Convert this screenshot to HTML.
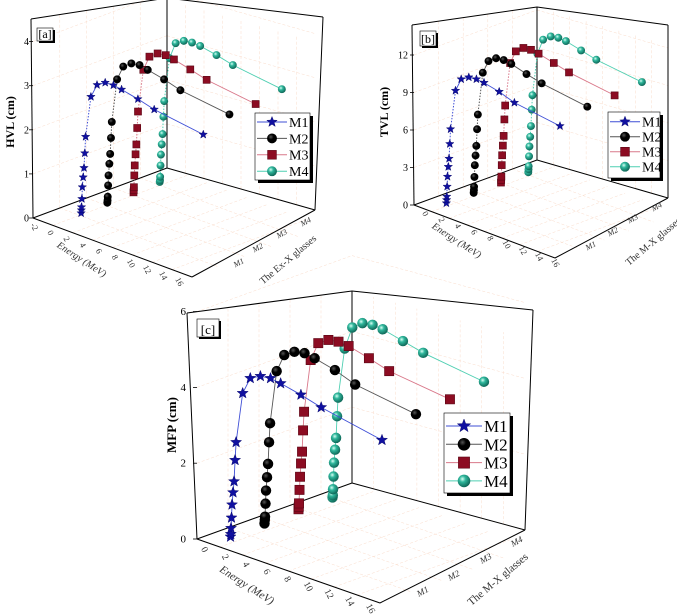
<!DOCTYPE html>
<html><head><meta charset="utf-8">
<style>
html,body{margin:0;padding:0;background:#fff;}
svg{display:block;font-family:"Liberation Serif",serif;}
</style></head>
<body>
<svg id="fig" width="677" height="616" viewBox="0 0 677 616" xmlns="http://www.w3.org/2000/svg">
<defs>
<radialGradient id="gSph" cx="0.38" cy="0.35" r="0.7"><stop offset="0" stop-color="#d8fff4"/><stop offset="0.35" stop-color="#2fb79c"/><stop offset="1" stop-color="#0b5e50"/></radialGradient>
<radialGradient id="gBlk" cx="0.38" cy="0.35" r="0.7"><stop offset="0" stop-color="#555"/><stop offset="0.4" stop-color="#000"/><stop offset="1" stop-color="#000"/></radialGradient>
</defs>
<g id="layer"></g>
</svg>
<script>
// ---- data ----
const energies = [0.05,0.08,0.1,0.15,0.2,0.3,0.4,0.5,0.6,1.25,2,3,4,5,7,9,15];
const seriesNames = ["M1","M2","M3","M4"];
const hvlM1 = [0,0.07,0.14,0.33,0.6,0.83,1.05,1.39,1.77,2.72,3.04,3.16,3.17,3.14,3.06,2.96,2.8];
const hvlM2 = [0,0.06,0.14,0.4,0.63,0.9,1.13,1.5,1.87,2.88,3.22,3.36,3.39,3.35,3.27,3.16,3.02];
const hvlM3 = [0,0.05,0.12,0.39,0.62,0.88,1.11,1.49,1.87,2.86,3.21,3.35,3.38,3.35,3.26,3.16,3.02];
const hvlM4 = [0,0.04,0.12,0.38,0.63,0.87,1.11,1.51,1.87,2.89,3.28,3.4,3.43,3.42,3.35,3.26,3.12];
const tvlM1 = [0,0.26,0.54,1.35,2.16,2.97,3.65,4.85,6.06,9.3,10.4,10.8,10.9,10.86,10.64,10.26,9.88];
const tvlM2 = [0,0.23,0.5,1.3,2.25,3.05,3.85,5.2,6.4,9.91,11.03,11.5,11.6,11.54,11.23,10.98,10.6];
const tvlM3 = [0,0.22,0.49,1.42,2.22,3.02,3.82,5.16,6.3,9.86,10.98,11.5,11.6,11.54,11.29,11.03,10.68];
const tvlM4 = [0,0.25,0.5,1.3,2.1,2.9,3.78,5.12,6.3,9.78,11.09,11.6,11.74,11.72,11.47,11.22,10.92];
const mfpM1 = [0.01,0.08,0.24,0.52,0.87,1.2,1.5,2.07,2.55,3.9,4.36,4.5,4.53,4.48,4.35,4.19,3.84];
const mfpM2 = [0.02,0.12,0.2,0.55,0.9,1.26,1.62,2.2,2.71,4.14,4.63,4.8,4.85,4.8,4.66,4.45,4.18];
const mfpM3 = [0.05,0.12,0.21,0.57,0.92,1.28,1.6,2.17,2.67,4.09,4.6,4.77,4.81,4.78,4.63,4.46,4.23];
const mfpM4 = [0.02,0.08,0.24,0.58,0.95,1.3,1.62,2.2,2.7,4.05,4.67,4.87,4.91,4.88,4.74,4.6,4.35];
const energyTicksA = ["-2","0","2","4","6","8","10","12","14","16"];
const energyTicks = ["0","2","4","6","8","10","12","14","16"];
const hvlTicks = [0,1,2,3,4];
const tvlTicks = [0,3,6,9,12];
const mfpTicks = [0,2,4,6];

const NS = "http://www.w3.org/2000/svg";
const layer = document.getElementById('layer');
function mk(tag, attrs, parent){
  const el = document.createElementNS(NS, tag);
  for (const k in attrs) el.setAttribute(k, attrs[k]);
  (parent||layer).appendChild(el);
  return el;
}
const lineColors = {M1:"#3f4fd6", M2:"#555", M3:"#d9788a", M4:"#4fcfb2"};

function marker(g, name, x, y, s){
  let el;
  if (name==="M1"){
    let pts=[];
    for(let i=0;i<10;i++){const r=i%2?s*0.42:s;const a=-Math.PI/2+i*Math.PI/5;pts.push((x+r*Math.cos(a)).toFixed(1)+","+(y+r*Math.sin(a)).toFixed(1));}
    el = mk('polygon',{points:pts.join(' '),fill:"#1010a0",stroke:"#000060","stroke-width":0.4},g);
  } else if (name==="M2"){
    el = mk('circle',{cx:x,cy:y,r:s*0.9,fill:"url(#gBlk)"},g);
  } else if (name==="M3"){
    el = mk('rect',{x:x-s*0.8,y:y-s*0.8,width:s*1.6,height:s*1.6,fill:"#8c0c22",stroke:"#5a0614","stroke-width":0.6},g);
  } else {
    el = mk('circle',{cx:x,cy:y,r:s*0.9,fill:"url(#gSph)"},g);
  }
  return el;
}

function panel(cfg){
  const g = mk('g',{});
  
  
  const grid = mk('g',{stroke:"#fadccb","stroke-width":0.5,"stroke-dasharray":"3,2",fill:"none"},g);
  
  
  const B = cfg.box;
  cfg.vticks.forEach(v=>{
    const dy = v*cfg.v;
    mk('line',{x1:B.fl[0],y1:B.fl[1]-dy,x2:B.bk[0],y2:B.bk[1]-dy},grid);
    mk('line',{x1:B.bk[0],y1:B.bk[1]-dy,x2:B.rt[0],y2:B.rt[1]-dy},grid);
  });
  for(let i=1;i<8;i++){
    const t=i/8;
    const a=[B.fl[0]+(B.bt[0]-B.fl[0])*t, B.fl[1]+(B.bt[1]-B.fl[1])*t];
    mk('line',{x1:a[0],y1:a[1],x2:a[0]+(B.bk[0]-B.fl[0]),y2:a[1]+(B.bk[1]-B.fl[1])},grid);
    mk('line',{x1:B.bk[0]+(B.rt[0]-B.bk[0])*t,y1:B.bk[1]+(B.rt[1]-B.bk[1])*t,x2:B.bk[0]+(B.rt[0]-B.bk[0])*t,y2:B.bk[1]+(B.rt[1]-B.bk[1])*t-(B.bk[1]-B.tb[1])},grid);
  }
  for(let i=1;i<5;i++){
    const t=i/5;
    const a=[B.fl[0]+(B.bk[0]-B.fl[0])*t, B.fl[1]+(B.bk[1]-B.fl[1])*t];
    mk('line',{x1:a[0],y1:a[1],x2:a[0]+(B.bt[0]-B.fl[0]),y2:a[1]+(B.bt[1]-B.fl[1])},grid);
    mk('line',{x1:B.fl[0]+(B.bk[0]-B.fl[0])*t,y1:B.tl[1]+(B.tb[1]-B.tl[1])*t,x2:a[0],y2:a[1]},grid);
  }
  const bx = mk('g',{stroke:"#000","stroke-width":1,fill:"none"},g);
  
  
  const segs=[[B.tl,B.lb],[B.lb,B.bt],[B.bt,B.rt],[B.fl,B.bk],[B.bk,B.rt],[B.bk,B.tb],[B.tl,B.tb],[B.tb,B.tr],[B.tr,B.rt]];
  segs.forEach(s=>mk('line',{x1:s[0][0],y1:s[0][1],x2:s[1][0],y2:s[1][1]},bx));
  cfg.vticks.forEach(v=>{
    const y = B.fl[1]-v*cfg.v;
    mk('line',{x1:B.fl[0]-4,y1:y,x2:B.fl[0],y2:y,stroke:"#000","stroke-width":0.8},g);
    const t = mk('text',{x:cfg.vlabelX,y:y+3.5,"font-size":cfg.fs,"text-anchor":"end",fill:"#000"},g);
    t.textContent = v;
    
    
  });
  const et = cfg.eticks;
  et.forEach((lab,i)=>{
    const t0 = i/(et.length-1);
    const x = cfg.el0[0]+(cfg.el1[0]-cfg.el0[0])*t0, y = cfg.el0[1]+(cfg.el1[1]-cfg.el0[1])*t0;
    const t = mk('text',{x:x,y:y,"font-size":cfg.fs-1.5,"text-anchor":"middle",fill:"#333",transform:`rotate(62 ${x} ${y})`},g);
    t.textContent = lab;
    
    
  });
  seriesNames.forEach((n,i)=>{
    const p = cfg.gl[i];
    const t = mk('text',{x:p[0],y:p[1],"font-size":cfg.fs-2,"text-anchor":"middle",fill:"#333","font-style":"italic",transform:`rotate(-28 ${p[0]} ${p[1]})`},g);
    t.textContent = n;
    
    
  });
  let t = mk('text',{x:cfg.et[0],y:cfg.et[1],"font-size":cfg.fs,"text-anchor":"middle",fill:"#333","font-style":"italic",transform:`rotate(33 ${cfg.et[0]} ${cfg.et[1]})`},g);
  t.textContent = "Energy (MeV)";
  
  
  t = mk('text',{x:cfg.gt[0],y:cfg.gt[1],"font-size":cfg.fs,"text-anchor":"middle",fill:"#333",transform:`rotate(-40 ${cfg.gt[0]} ${cfg.gt[1]})`},g);
  t.textContent = cfg.gtitle;
  
  
  t = mk('text',{x:cfg.yt[0],y:cfg.yt[1],"font-size":cfg.fs+2,"text-anchor":"middle","font-weight":"bold",fill:"#000",transform:`rotate(-90 ${cfg.yt[0]} ${cfg.yt[1]})`},g);
  t.textContent = cfg.ytitle;
  
  
  const L = cfg.tag;
  mk('rect',{x:L[0]+2,y:L[1]+2,width:L[2],height:L[3],fill:"#000"},g);
  const tr = mk('rect',{x:L[0],y:L[1],width:L[2],height:L[3],fill:"#fff",stroke:"#000","stroke-width":0.6},g);
  
  
  t = mk('text',{x:L[0]+L[2]/2,y:L[1]+L[3]-3,"font-size":cfg.fs+2,"text-anchor":"middle",fill:"#000"},g);
  t.textContent = "["+cfg.id.slice(-1)+"]";
  const px = (E,gi)=> cfg.O[0]+E*cfg.e[0]+gi*cfg.g[0];
  const py = (E,gi,val)=> cfg.O[1]+E*cfg.e[1]+gi*cfg.g[1]-val*cfg.v;
  for(let si=3;si>=0;si--){
    const name = seriesNames[si];
    const vals = cfg.data[si];
    const sg = mk('g',{},g);
    
    
    const pts = energies.map((E,i)=>[px(E,si),py(E,si,vals[i])]);
    const split = cfg.dotted ? 9 : 0;
    if (split){
      mk('polyline',{points:pts.slice(0,split+1).map(p=>p.join(',')).join(' '),fill:"none",stroke:lineColors[name],"stroke-width":1,"stroke-dasharray":"1.5,1.5"},sg);
    }
    mk('polyline',{points:pts.slice(split).map(p=>p.join(',')).join(' '),fill:"none",stroke:lineColors[name],"stroke-width":0.9},sg);
    pts.forEach((p,i)=>{
      const m = marker(sg,name,p[0],p[1],cfg.ms);
      
      
    });
  }
  const lg = cfg.leg;
  const lgg = mk('g',{},g);
  
  
  mk('rect',{x:lg.x+3,y:lg.y+3,width:lg.w,height:lg.h,fill:"#000"},lgg);
  mk('rect',{x:lg.x,y:lg.y,width:lg.w,height:lg.h,fill:"#fff",stroke:"#000","stroke-width":0.6},lgg);
  seriesNames.forEach((n,i)=>{
    const y = lg.y0 + i*lg.dy;
    const eg = mk('g',{},lgg);
    
    
    mk('line',{x1:lg.x+2,y1:y,x2:lg.x+lg.lw,y2:y,stroke:lineColors[n],"stroke-width":1},eg);
    marker(eg,n,lg.x+2+(lg.lw-2)/2,y,lg.ms);
    const tt = mk('text',{x:lg.x+lg.lw+2,y:y+lg.fs*0.35,"font-size":lg.fs,fill:"#000"},eg);
    tt.textContent = n;
  });
}

panel({id:"panel-a", O:[80.7,213], e:[8.17,3.0], g:[26.2,-10.4], v:44.1, ms:4.4, fs:10, dotted:true,
  data:[hvlM1,hvlM2,hvlM3,hvlM4], vticks:hvlTicks, vlabelX:29,
  box:{tl:[31,19], lb:[33,218], fl:[33,218], bt:[192,277], rt:[315,210], bk:[167,168], tb:[167,-2], tr:[323,17]},
  eticks:energyTicksA, el0:[32,228], el1:[177,283],
  gl:[[240,265],[259,250],[283,236],[307,224]],
  et:[80,262], gt:[290,262], gtitle:"The Ex-X glasses", yt:[14,122], ytitle:"HVL (cm)",
  tag:[37,28,16,13],
  leg:{x:255,y:113,w:55,h:67,y0:122,dy:16.4,lw:32,ms:5.5,fs:14}});

panel({id:"panel-b", O:[446,203], e:[7.6,3.1], g:[27.3,-10.3], v:12.5, ms:4.4, fs:10, dotted:true,
  data:[tvlM1,tvlM2,tvlM3,tvlM4], vticks:tvlTicks, vlabelX:408,
  box:{tl:[412,25], lb:[414,205], fl:[414,205], bt:[555,258], rt:[668,198], bk:[537,160], tb:[537,7], tr:[668,25]},
  eticks:energyTicks, el0:[423,215], el1:[553,264],
  gl:[[592,248],[614,234],[634,221],[658,209]],
  et:[455,243], gt:[655,244], gtitle:"The M-X glasses", yt:[388,112], ytitle:"TVL (cm)",
  tag:[420,31,16,15],
  leg:{x:608,y:112,w:52,h:66,y0:121.7,dy:15,lw:32,ms:5.5,fs:14}});

panel({id:"panel-c", O:[230,537], e:[10.13,3.24], g:[34,-13], v:37.9, ms:5.8, fs:11, dotted:false,
  data:[mfpM1,mfpM2,mfpM3,mfpM4], vticks:mfpTicks, vlabelX:186,
  box:{tl:[187,313], lb:[197,539], fl:[197,539], bt:[380,603], rt:[525,530], bk:[352,483], tb:[352,291], tr:[533,310]},
  eticks:energyTicks, el0:[202,551], el1:[368,610],
  gl:[[424,594],[455,578],[487,561],[518,544]],
  et:[245,588], gt:[500,582], gtitle:"The M-X glasses", yt:[176,425], ytitle:"MFP (cm)",
  tag:[197,319,22,18],
  leg:{x:444,y:413,w:66,h:80,y0:426,dy:18.3,lw:38,ms:7,fs:17}});
</script>
</body></html>
